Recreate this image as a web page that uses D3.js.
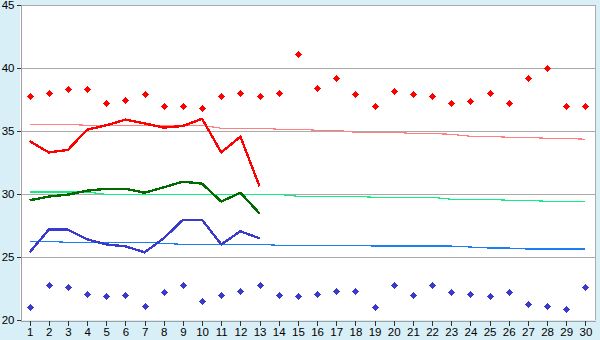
<!DOCTYPE html>
<html>
<head>
<meta charset="utf-8">
<script src="https://cdn.jsdelivr.net/npm/d3@7"></script>
<style>
  html, body { margin: 0; padding: 0; background: #d9eff7; }
  svg { display: block; }
  text { font-family: "Liberation Sans", Arial, sans-serif; font-size: 11.5px; fill: #000; }
</style>
</head>
<body>
<div id="chart"></div>
<script>

const days = d3.range(1, 31);
const yTicks = [20, 25, 30, 35, 40, 45];

// daily readings (diamonds)
const maxDaily = [37.8, 38, 38.3, 38.3, 37.2, 37.5, 37.9, 37, 37, 36.8, 37.8, 38, 37.8, 38, 41.1,
                  38.4, 39.2, 37.9, 37, 38.2, 37.9, 37.8, 37.2, 37.4, 38, 37.2, 39.2, 40, 37, 37];
const minDaily = [21.0, 22.8, 22.6, 22.1, 21.9, 22.0, 21.1, 22.2, 22.8, 21.5, 22.0, 22.3, 22.8, 22.0, 21.9,
                  22.1, 22.3, 22.3, 21.0, 22.8, 22.0, 22.8, 22.2, 22.1, 21.9, 22.2, 21.3, 21.1, 20.9, 22.6];

// running lines (days 1..13)
const maxRun = [34.2, 33.3, 33.5, 35.1, 35.45, 35.9, 35.6, 35.27, 35.4, 35.97, 33.3, 34.55, 30.6];
const avgRun = [29.5, 29.8, 29.95, 30.26, 30.42, 30.42, 30.1, 30.53, 30.98, 30.82, 29.4, 30.1, 28.45];
const minRun = [25.37, 27.17, 27.17, 26.4, 26.0, 25.85, 25.37, 26.48, 27.95, 27.95, 26.0, 27.04, 26.48];

// normals (days 1..30)
const maxNormal = [35.53, 35.53, 35.53, 35.45, 35.45, 35.45, 35.45, 35.45, 35.45, 35.45, 35.22, 35.22, 35.22, 35.14, 35.14,
                   35.06, 35.06, 34.9, 34.9, 34.9, 34.8, 34.8, 34.74, 34.58, 34.58, 34.5, 34.5, 34.42, 34.42, 34.34];
const avgNormal = [30.16, 30.16, 30.16, 30.16, 29.97, 29.97, 29.97, 29.97, 29.97, 29.97, 29.97, 29.97, 29.97, 29.97, 29.82,
                   29.82, 29.82, 29.82, 29.74, 29.74, 29.74, 29.74, 29.58, 29.58, 29.58, 29.5, 29.5, 29.42, 29.42, 29.42];
const minNormal = [26.24, 26.24, 26.16, 26.16, 26.16, 26.16, 26.16, 26.09, 26.0, 26.0, 26.0, 26.0, 26.0, 25.93, 25.93,
                   25.93, 25.93, 25.93, 25.87, 25.87, 25.87, 25.87, 25.87, 25.79, 25.71, 25.71, 25.63, 25.63, 25.63, 25.63];

const width = 600;
const height = 340;
const plotLeft = 20, plotRight = 595, plotTop = 5, plotBottom = 320;

const svg = d3.select("#chart").append("svg")
	.attr("width", width)
	.attr("height", height);

const x = d3.scalePoint()
	.domain(days)
	.range([plotLeft, plotRight])
	.padding(0.5);

const y = d3.scaleLinear()
	.domain([20, 45])
	.range([plotBottom, plotTop]);

// plot background
svg.append("rect")
	.attr("x", plotLeft).attr("y", plotTop)
	.attr("width", plotRight - plotLeft).attr("height", plotBottom - plotTop)
	.attr("fill", "#fff");

// gridlines
svg.append("g")
	.selectAll("line")
	.data(yTicks.filter(d => d > 20 && d < 45))
	.enter().append("line")
		.attr("x1", plotLeft).attr("x2", plotRight)
		.attr("y1", d => Math.round(y(d)) + 0.5)
		.attr("y2", d => Math.round(y(d)) + 0.5)
		.attr("stroke", "#aaa")
		.attr("shape-rendering", "crispEdges");

// frame: top and right
svg.append("path")
	.attr("d", `M${plotLeft},${plotTop + 0.5}H${plotRight + 0.5}V${plotBottom}`)
	.attr("fill", "none")
	.attr("stroke", "#aaa")
	.attr("shape-rendering", "crispEdges");

// y axis
const yAxis = svg.append("g")
	.attr("transform", `translate(${plotLeft + 0.5},0)`)
	.call(d3.axisLeft(y).tickValues(yTicks).tickSize(4).tickPadding(2));
yAxis.select(".domain").attr("stroke", "#a0a0a0").attr("shape-rendering", "crispEdges");
yAxis.selectAll("text").attr("font-size", null).attr("font-family", null);

// x axis
const xAxis = svg.append("g")
	.attr("transform", `translate(0,${plotBottom + 0.5})`)
	.call(d3.axisBottom(x).tickSize(5).tickPadding(2).tickSizeOuter(0));
xAxis.select(".domain").attr("stroke", "#a0a0a0").attr("shape-rendering", "crispEdges");
xAxis.selectAll("text").attr("font-size", null).attr("font-family", null);
svg.selectAll(".tick line").attr("stroke", "#333").attr("shape-rendering", "crispEdges");

const line = d3.line()
	.x((d, i) => x(days[i]))
	.y(d => y(d));

// normals
[[maxNormal, "#ff8080"], [avgNormal, "#10f080"], [minNormal, "#1a7ff0"]].forEach(function(s) {
	svg.append("path")
		.datum(s[0])
		.attr("d", line)
		.attr("fill", "none")
		.attr("stroke", s[1])
		.attr("stroke-width", 1.2)
		.attr("shape-rendering", "crispEdges");
});

// running lines
[[maxRun, "#ff0000"], [avgRun, "#006a00"], [minRun, "#3a3acc"]].forEach(function(s) {
	svg.append("path")
		.datum(s[0])
		.attr("d", line)
		.attr("fill", "none")
		.attr("stroke", s[1])
		.attr("stroke-width", 2.4)
		.attr("stroke-linejoin", "round")
		.attr("shape-rendering", "crispEdges");
});

// diamonds (small pixel crosses)
const marker = "M-0.5,-3.5h1v1h1v1h1v1h1v1h-1v1h-1v1h-1v1h-1v-1h-1v-1h-1v-1h-1v-1h1v-1h1v-1h1z";
[[maxDaily, "#ff0000"], [minDaily, "#3a3acc"]].forEach(function(s) {
	svg.append("g")
		.selectAll("path")
		.data(s[0])
		.enter().append("path")
			.attr("d", "M-1.5,-2.5h3v1h1v3h-1v1h-3v-1h-1v-3h1z" + marker)
			.attr("transform", (d, i) => `translate(${Math.round(x(days[i])) + 0.5},${Math.round(y(d)) + 0.5})`)
			.attr("fill", s[1])
			.attr("shape-rendering", "crispEdges");
});

</script>
</body>
</html>
